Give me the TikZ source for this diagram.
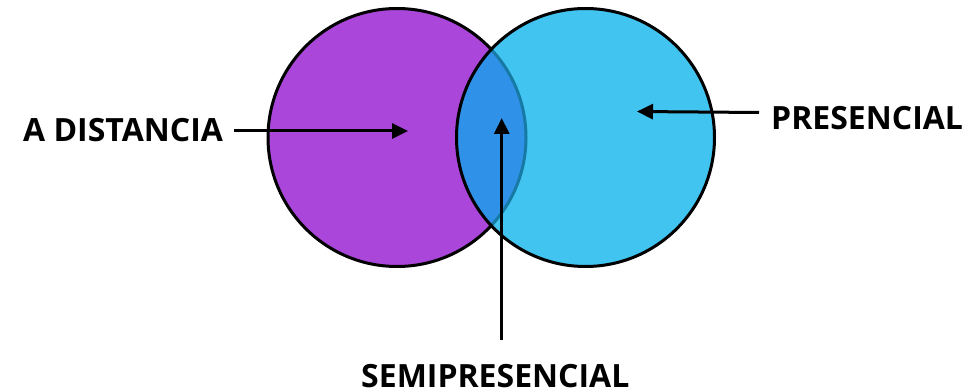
\documentclass[tikz,border=0pt]{standalone}
\usepackage{fontspec}
\setmainfont{Open Sans}
\usetikzlibrary{arrows.meta}
\definecolor{purp}{RGB}{170,70,217}
\definecolor{cyanc}{RGB}{66,196,240}
\definecolor{lensc}{RGB}{48,145,232}
\definecolor{tealc}{RGB}{22,122,165}
\tikzset{
  lbl/.style={font=\fontsize{32}{38}\selectfont\bfseries, inner sep=0pt, anchor=base west},
  conn/.style={line width=3pt, -{Triangle[length=16pt,width=15pt]}},
  ring/.style={line width=3pt}
}
\begin{document}
\begin{tikzpicture}[x=1pt,y=-1pt]
\useasboundingbox (0,0) rectangle (978,390);
\coordinate (LC) at (397,137.5);
\coordinate (RC) at (585.5,137.5);
\fill[purp] (LC) circle (129);
\draw[ring] (LC) circle (129);
\fill[cyanc] (RC) circle (129);
\begin{scope}
  \clip (LC) circle (129);
  \fill[lensc] (RC) circle (129);
\end{scope}
\begin{scope}
  \clip (RC) circle (129);
  \draw[ring, tealc] (LC) circle (129);
\end{scope}
\draw[ring] (RC) circle (129);
\node[lbl] (dist) at (23,142) {A DISTANCIA};
\node[lbl] (pres) at (771,130) {PRESENCIAL};
\node[lbl, text depth=0pt] (semi) at (361,387.5) {SEMIPRESENCIAL};
\coordinate (d1) at (234,131);
\coordinate (d2) at (408,131);
\coordinate (p1) at (759,112.5);
\coordinate (p2) at (637,111.5);
\coordinate (s1) at (501.7,340);
\coordinate (s2) at (501.7,118);
\draw[conn] (d1) -- (d2);
\draw[conn] (p1) -- (p2);
\draw[conn] (s1) -- (s2);
\end{tikzpicture}
\end{document}
